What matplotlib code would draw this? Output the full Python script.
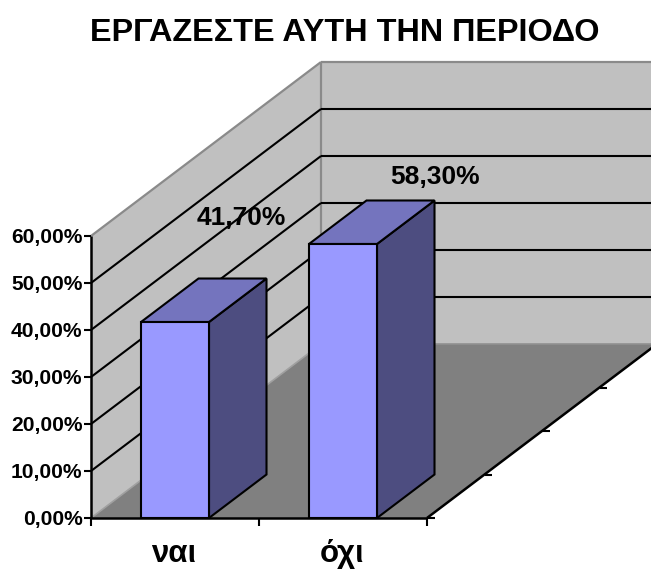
import matplotlib
matplotlib.use("Agg")
import matplotlib.pyplot as plt
from matplotlib.patches import Polygon

plt.rcParams['font.family'] = ['Liberation Sans', 'DejaVu Sans']

title = "ΕΡΓΑΖΕΣΤΕ ΑΥΤΗ ΤΗΝ ΠΕΡΙΟΔΟ"
categories = ["ναι", "όχι"]
values = [41.7, 58.3]
value_labels = ["41,70%", "58,30%"]
y_ticks = [0, 10, 20, 30, 40, 50, 60]
y_tick_labels = ["0,00%", "10,00%", "20,00%", "30,00%", "40,00%", "50,00%", "60,00%"]

W, H = 651, 569
X0, Y0 = 91.0, 518.0        # front-left corner on the floor
CAT_W = 168.0               # pixels per category
PX_PER_VAL = 282.0 / 60.0
DX, DY = 230.0, -174.0      # depth vector
BAR_GAP = 50.0 / 168.0      # gap on each side of a bar, in category units
BAR_DEPTH = 0.25
EXT = 2.0                   # back wall runs past the picture edge
LABEL_SHIFT = [(9, -61), (35, -23)]   # value label position relative to bar top-back

def P(c, v=0.0, d=0.0):
    """Project (category, value, depth) to picture pixels."""
    return (X0 + c * CAT_W + d * DX, Y0 - v * PX_PER_VAL + d * DY)

fig = plt.figure(figsize=(W / 100, H / 100), dpi=100, facecolor="white")
ax = fig.add_axes([0, 0, 1, 1])
ax.set_xlim(0, W)
ax.set_ylim(H, 0)
ax.axis("off")

WALL, FLOOR, EDGE = "#C0C0C0", "#808080", "#8A8A8A"
n = len(categories)
vmax = y_ticks[-1]

# walls and floor
ax.add_patch(Polygon([P(0, 0, 0), P(0, vmax, 0), P(0, vmax, 1), P(0, 0, 1)], fc=WALL, ec="none", zorder=1))
ax.add_patch(Polygon([P(0, 0, 1), P(0, vmax, 1), P(EXT, vmax, 1), P(EXT, 0, 1)], fc=WALL, ec="none", zorder=1))
ax.add_patch(Polygon([P(0, 0, 0), P(n, 0, 0), P(n, 0, 1), P(0, 0, 1)], fc=FLOOR, ec="none", zorder=1))

def line(a, b, color="black", lw=1.5, z=2):
    ax.plot([a[0], b[0]], [a[1], b[1]], color=color, lw=lw, zorder=z, solid_capstyle="butt")

# wall outline
line(P(0, vmax, 0), P(0, vmax, 1), EDGE, 1.6)
line(P(0, vmax, 1), P(EXT, vmax, 1), EDGE, 1.6)
line(P(0, 0, 1), P(0, vmax, 1), EDGE, 1.6)
line(P(0, 0, 0), P(0, 0, 1), "#A0A0A0", 1.2)
line(P(0, 0, 1), P(EXT, 0, 1), "#909090", 1.2)

# gridlines
for v in y_ticks[1:-1]:
    line(P(0, v, 0), P(0, v, 1), "black", 1.5)
    line(P(0, v, 1), P(EXT, v, 1), "black", 1.5)

# axes and ticks
line(P(0, 0, 0), P(0, vmax, 0), "black", 1.8, 3)
line(P(0, 0, 0), P(n, 0, 0), "black", 1.8, 3)
line(P(n, 0, 0), P(n, 0, 1), "black", 1.8, 3)
for v, lab in zip(y_ticks, y_tick_labels):
    x, y = P(0, v, 0)
    line((x - 7, y), (x, y), "black", 1.5, 3)
    ax.text(x - 8.5, y + 1.5, lab, ha="right", va="center", fontsize=15.1, fontweight="bold", color="black", zorder=6)
for c in range(n + 1):
    x, y = P(c, 0, 0)
    line((x, y), (x, y + 8), "black", 1.5, 3)
for d in (0, 0.25, 0.5, 0.75):
    x, y = P(n, 0, d)
    line((x, y), (x + 7.5, y), "black", 1.5, 3)

# bars
for i, (cat, val, lab) in enumerate(zip(categories, values, value_labels)):
    c0, c1 = i + BAR_GAP, i + 1 - BAR_GAP
    kw = dict(ec="black", lw=1.5, joinstyle="miter", zorder=4)
    ax.add_patch(Polygon([P(c1, 0, 0), P(c1, val, 0), P(c1, val, BAR_DEPTH), P(c1, 0, BAR_DEPTH)], fc="#4D4D80", **kw))
    ax.add_patch(Polygon([P(c0, val, 0), P(c1, val, 0), P(c1, val, BAR_DEPTH), P(c0, val, BAR_DEPTH)], fc="#7474BE", **kw))
    ax.add_patch(Polygon([P(c0, 0, 0), P(c1, 0, 0), P(c1, val, 0), P(c0, val, 0)], fc="#9999FF", **kw))
    tx, ty = P(i + 0.5, val, BAR_DEPTH)
    sx, sy = LABEL_SHIFT[i]
    ax.text(tx + sx, ty + sy, lab, ha="center", va="center", fontsize=19, fontweight="bold", zorder=6)
    cx, cy = P(i + 0.5, 0, 0)
    ax.text(cx - 1, cy + 44, cat, ha="center", va="baseline", fontsize=22.5, fontweight="bold", zorder=6)

ax.text(345, 33, title, ha="center", va="center", fontsize=23.3, fontweight="bold", zorder=6)

fig.savefig("out.png", dpi=100, facecolor="white")
